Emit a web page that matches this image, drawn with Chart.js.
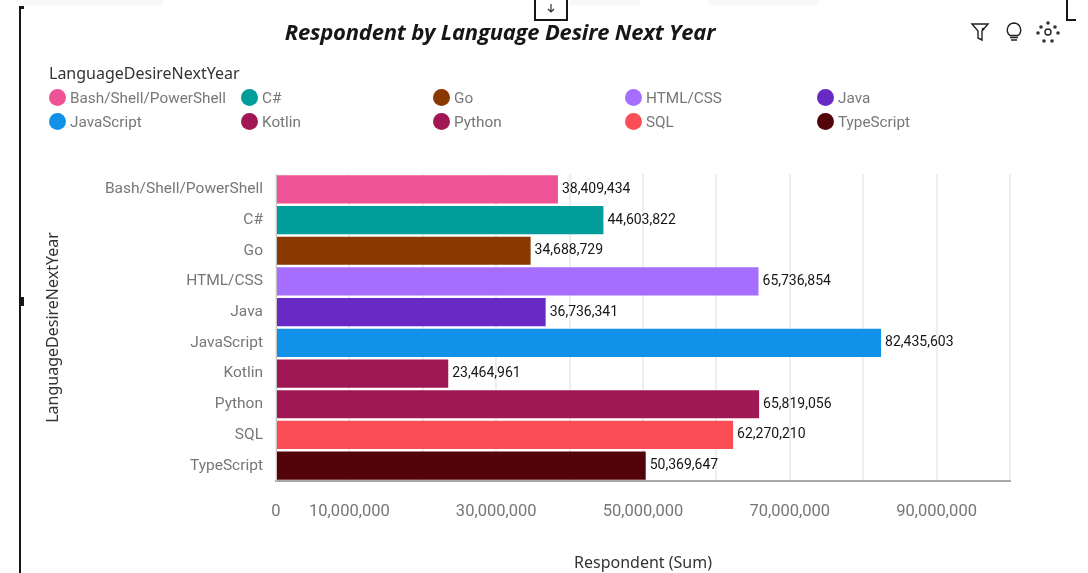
<!DOCTYPE html>
<html>
<head>
<meta charset="utf-8">
<title>Respondent by Language Desire Next Year</title>
<script src="https://cdn.jsdelivr.net/npm/chart.js@4"></script>
<style>
    html, body { margin: 0; padding: 0; background: #fff; overflow: hidden; }
    body { width: 1088px; height: 573px; position: relative; font-family: "Roboto", sans-serif; }
    #respondentChart { position: absolute; left: 0; top: 0; }
    #chartTitle { position: absolute; left: 200px; width: 600px; top: 16px; text-align: center;
        font: italic 700 22px "Open Sans", sans-serif; letter-spacing: -0.2px; color: #161616; white-space: nowrap; }
    #legendTitle { position: absolute; left: 49px; top: 62px; font: 16px "Noto Sans", sans-serif; color: #333; }
    .legend-item { position: absolute; font-size: 15.300px; color: #777; white-space: nowrap; line-height: 18px; }
    .legend-item i { position: absolute; left: -21px; top: 0; width: 17px; height: 17px; border-radius: 50%; }
    .frame { position: absolute; background: #161616; }
    .strip { position: absolute; top: 0; height: 5px; background: #f6f8fa; }
    #tools { position: absolute; left: 968px; top: 20px; }
    #dropIcon { position: absolute; left: 545px; top: 1px; }
</style>
</head>
<body>
<canvas id="respondentChart" width="1088" height="573"></canvas>
<div id="chartTitle">Respondent by Language Desire Next Year</div>
<div id="legendTitle">LanguageDesireNextYear</div>
<div id="legend"></div>
<div class="strip" style="left:23px;width:140px"></div>
<div class="strip" style="left:570px;width:70px"></div>
<div class="strip" style="left:708px;width:110px"></div>
<div class="frame" style="left:19px;top:6px;width:2px;height:567px"></div>
<div class="frame" style="left:19px;top:6px;width:5px;height:3px"></div>
<div class="frame" style="left:19px;top:297px;width:5px;height:9px"></div>
<div class="frame" style="left:534px;top:0;width:2px;height:21px"></div>
<div class="frame" style="left:534px;top:19px;width:34px;height:2px"></div>
<div class="frame" style="left:566px;top:0;width:2px;height:21px"></div>
<div class="frame" style="left:1066px;top:0;width:2px;height:21px"></div>
<div class="frame" style="left:1066px;top:19px;width:10px;height:2px"></div>
<svg id="dropIcon" width="12" height="14" viewBox="0 0 12 14" fill="none" stroke="#333" stroke-width="1.2">
    <path d="M6 3v7M3 8l3 3 3-3"/>
</svg>
<svg id="tools" width="96" height="24" viewBox="0 0 96 24" fill="none" stroke="#222" stroke-width="1.4">
    <path d="M4 4h16l-6 7v9l-4-2v-7z"/>
    <circle cx="15" cy="9" r="1.300" fill="#222" stroke="none"/>
    <path d="M43 20h6M42 17.500h8M46 3a7 7 0 0 0-4 12.500h8A7 7 0 0 0 46 3z"/>
    <circle cx="80" cy="12" r="3"/>
    <g fill="#333" stroke="none">
        <circle cx="80" cy="3" r="1.800"/><circle cx="76" cy="21" r="1.800"/><circle cx="84" cy="21" r="1.800"/>
        <circle cx="73" cy="7" r="1.800"/><circle cx="87" cy="7" r="1.800"/>
        <circle cx="70" cy="13" r="1.800"/><circle cx="90" cy="13" r="1.800"/>
    </g>
</svg>
<script>
// Values
const languages = ['Bash/Shell/PowerShell', 'C#', 'Go', 'HTML/CSS', 'Java', 'JavaScript', 'Kotlin', 'Python', 'SQL', 'TypeScript'];
const respondents = [38409434, 44603822, 34688729, 65736854, 36736341, 82435603, 23464961, 65819056, 62270210, 50369647];
const barColors = ['#ee5396', '#009d9a', '#8a3800', '#a56eff', '#6929c4', '#1192e8', '#9f1853', '#9f1853', '#fa4d56', '#520408'];
const legendColumns = [70, 262, 454, 646, 838];
const legendRows = [89, 113];

// Legend is plain html so it can sit in the same five column grid as the original
const legendBox = document.getElementById('legend');
languages.forEach((name, i) => {
    const item = document.createElement('div');
    item.className = 'legend-item';
    item.style.left = legendColumns[i % 5] + 'px';
    item.style.top = legendRows[Math.floor(i / 5)] + 'px';
    item.innerHTML = `<i style="background:${barColors[i]}"></i>`;
    item.appendChild(document.createTextNode(name));
    legendBox.appendChild(item);
});

const TITLE_FONT = { family: 'Noto Sans', size: 16 };

// Prints the value just after the end of each bar
const barValueLabels = {
    id: 'barValueLabels',
    afterDatasetsDraw(chart) {
        const ctx = chart.ctx;
        ctx.save();
        ctx.font = '14px Roboto';
        ctx.fillStyle = '#161616';
        ctx.textBaseline = 'middle';
        chart.getDatasetMeta(0).data.forEach((bar, i) => {
            ctx.fillText(respondents[i].toLocaleString('en-US'), bar.x + 4, bar.y);
        });
        ctx.restore();
    }
};

new Chart(document.getElementById('respondentChart').getContext('2d'), {
    type: 'bar',
    data: {
        labels: languages,
        datasets: [{
            label: 'Respondent (Sum)',
            data: respondents,
            backgroundColor: barColors,
            categoryPercentage: 1,
            barPercentage: 0.92
        }]
    },
    plugins: [barValueLabels],
    options: {
        indexAxis: 'y',
        responsive: false,
        animation: false,
        devicePixelRatio: 1,
        layout: { padding: { top: 174, right: 78, left: 0, bottom: 0 } },
        plugins: {
            legend: { display: false },
            tooltip: { enabled: false }
        },
        scales: {
            x: {
                min: 0,
                max: 100000000,
                afterFit(scale) { scale.height = 92; },
                grid: { color: '#eeeeee', lineWidth: 2, drawTicks: false },
                border: { color: '#a8a8a8', width: 2 },
                ticks: {
                    stepSize: 10000000,
                    autoSkip: false,
                    maxRotation: 0,
                    padding: 21,
                    color: '#777',
                    font: { family: 'Roboto', size: 16.5 },
                    callback(value) {
                        if (value === 0) return '0';
                        if (value >= 100000000 || (value / 10000000) % 2 === 0) return '';
                        return value.toLocaleString('en-US');
                    }
                },
                title: {
                    display: true,
                    text: 'Respondent (Sum)',
                    color: '#333',
                    font: TITLE_FONT,
                    padding: { top: 0, bottom: 0 }
                }
            },
            y: {
                afterFit(scale) { scale.width = 276; },
                grid: { display: false },
                border: { color: '#c6c6c6', width: 1 },
                ticks: { color: '#777', font: { family: 'Roboto', size: 15.5 }, padding: 5 },
                title: {
                    display: true,
                    text: 'LanguageDesireNextYear',
                    color: '#333',
                    font: TITLE_FONT,
                    padding: { top: 44, bottom: 0 }
                }
            }
        }
    }
});
</script>
</body>
</html>
